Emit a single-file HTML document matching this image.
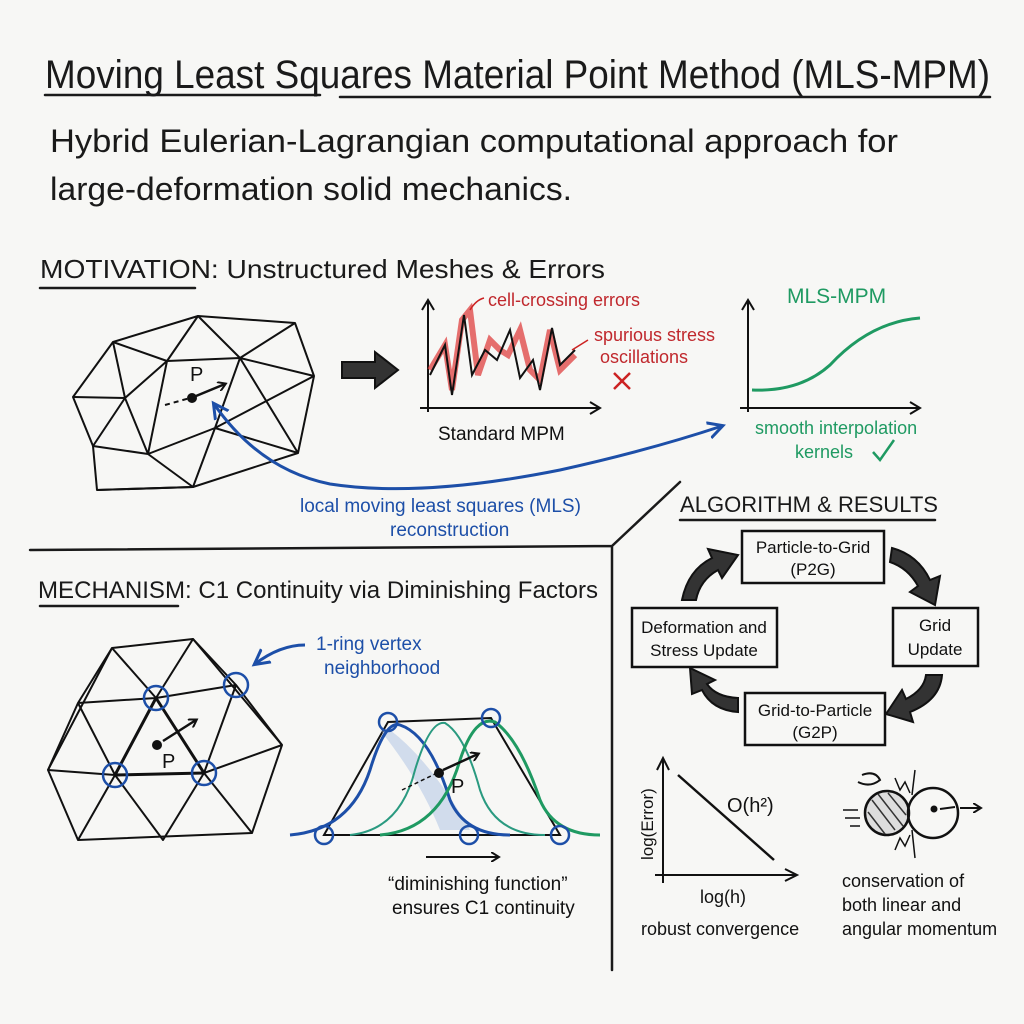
<!DOCTYPE html>
<html><head><meta charset="utf-8"><style>
html,body{margin:0;padding:0;background:#f7f7f5;}
svg{display:block}
text{font-family:"Liberation Sans",sans-serif;}
</style></head><body>
<svg width="1024" height="1024" viewBox="0 0 1024 1024" xmlns="http://www.w3.org/2000/svg">
<rect width="1024" height="1024" fill="#f7f7f5"/>
<defs>
<marker id="ab" markerWidth="10" markerHeight="10" refX="7" refY="5" orient="auto" markerUnits="userSpaceOnUse"><path d="M0,0 L8,5 L0,10" fill="none" stroke="#111" stroke-width="2"/></marker>
<marker id="abl" markerWidth="20" markerHeight="20" refX="14" refY="10" orient="auto-start-reverse" markerUnits="userSpaceOnUse"><path d="M0,2 L15,10 L0,18" fill="none" stroke="#1d4fa8" stroke-width="3"/></marker>
</defs>
<g fill="#1a1a1a">
<text x="45" y="88" font-size="40" textLength="945" lengthAdjust="spacingAndGlyphs">Moving Least Squares Material Point Method (MLS-MPM)</text>
<text x="50" y="152" font-size="32" textLength="848" lengthAdjust="spacingAndGlyphs">Hybrid Eulerian-Lagrangian computational approach for</text>
<text x="50" y="200" font-size="32" textLength="522" lengthAdjust="spacingAndGlyphs">large-deformation solid mechanics.</text>
<text x="40" y="278" font-size="26" textLength="565" lengthAdjust="spacingAndGlyphs">MOTIVATION: Unstructured Meshes &amp; Errors</text>
<text x="38" y="598" font-size="24" textLength="560" lengthAdjust="spacingAndGlyphs">MECHANISM: C1 Continuity via Diminishing Factors</text>
<text x="680" y="512" font-size="22" textLength="258" lengthAdjust="spacingAndGlyphs">ALGORITHM &amp; RESULTS</text>
</g>
<g stroke="#1a1a1a" stroke-width="2.5" fill="none" stroke-linecap="round">
<path d="M45 95 L320 95 M340 97 L990 97"/>
<path d="M40 288 L195 288 M40 606 L178 606"/>
<path d="M680 520 L935 520"/>
<path d="M30 550 L612 546 M612 546 L680 482 M612 546 L612 970"/>
</g>
<!-- mesh 1 -->
<g stroke="#111" stroke-width="2" fill="none" stroke-linejoin="round">
<path d="M113 342 L198 316 L295 323 L314 376 L298 453 L193 487 L97 490 L93 446 L73 397 Z"/>
<path d="M113 342 L167 361 L198 316 L240 358 L295 323 M167 361 L240 358 L314 376 M113 342 L125 398 L73 397 M125 398 L167 361 M125 398 L93 446 L148 454 L125 398 M148 454 L167 361 M148 454 L215 428 L240 358 M148 454 L193 487 L97 490 M215 428 L193 487 M215 428 L298 453 M240 358 L298 453 M314 376 L215 428"/>
</g>
<path d="M165 405 L190 398" stroke="#111" stroke-width="2" stroke-dasharray="5,4"/>
<circle cx="192" cy="398" r="5" fill="#111"/>
<path d="M196 396 L225 384" stroke="#111" stroke-width="2.5" marker-end="url(#ab)"/>
<text x="190" y="381" font-size="20" fill="#111">P</text>
<!-- big arrow -->
<path d="M342 362 L375 362 L375 352 L398 370 L375 388 L375 378 L342 378 Z" fill="#333" stroke="#111" stroke-width="2"/>
<!-- standard MPM chart -->
<g stroke="#111" stroke-width="2" fill="none">
<path d="M428 412 L428 302 M422 310 L428 300 L434 310"/>
<path d="M420 408 L598 408 M590 402 L600 408 L590 414"/>
</g>
<path d="M430 370 L445 345 L452 390 L462 320 L470 310 L478 375 L490 340 L500 350 L508 355 L520 330 L530 370 L540 380 L550 330 L560 370 L575 355" stroke="#d33" stroke-width="6" fill="none" opacity="0.7"/>
<path d="M430 375 L445 345 L452 395 L464 315 L472 375 L485 350 L497 360 L510 330 L520 378 L533 360 L540 390 L552 328 L560 365 L575 350" stroke="#111" stroke-width="2" fill="none"/>
<path d="M470 310 Q476 300 484 298" stroke="#c22" stroke-width="1.5" fill="none"/>
<path d="M572 350 Q580 345 588 340" stroke="#c22" stroke-width="1.5" fill="none"/>
<g fill="#c0282d" font-size="18">
<text x="488" y="306">cell-crossing errors</text>
<text x="594" y="341">spurious stress</text>
<text x="600" y="363">oscillations</text>
</g>
<path d="M614 373 L630 389 M630 373 L614 389" stroke="#c22" stroke-width="2.5"/>
<text x="438" y="440" font-size="19" fill="#111">Standard MPM</text>
<!-- MLS chart -->
<g stroke="#111" stroke-width="2" fill="none">
<path d="M748 412 L748 302 M742 310 L748 300 L754 310"/>
<path d="M740 408 L918 408 M910 402 L920 408 L910 414"/>
</g>
<path d="M752 390 Q800 392 830 365 Q870 322 920 318" stroke="#1f9a62" stroke-width="3" fill="none"/>
<text x="787" y="303" font-size="21" fill="#1f9a62">MLS-MPM</text>
<text x="755" y="434" font-size="18" fill="#1f9a62">smooth interpolation</text>
<text x="795" y="458" font-size="18" fill="#1f9a62">kernels</text>
<path d="M873 452 L880 460 L894 440" stroke="#1f9a62" stroke-width="2.5" fill="none"/>
<!-- blue connector (double headed) -->
<path d="M214 404 Q260 470 330 484 Q420 498 560 470 Q650 450 722 426" stroke="#1d4fa8" stroke-width="3" fill="none" marker-start="url(#abl)" marker-end="url(#abl)"/>
<text x="300" y="512" font-size="19" fill="#1d4fa8">local moving least squares (MLS)</text>
<text x="390" y="536" font-size="19" fill="#1d4fa8">reconstruction</text>
<!-- hex mesh -->
<g stroke="#111" stroke-width="2" fill="none" stroke-linejoin="round">
<path d="M112 648 L193 639 L282 745 L252 833 L78 840 L48 770 Z"/>
<path d="M78 703 L156 698 L236 685 L282 745 M48 770 L115 775 L204 773 L282 745 M112 648 L78 703 L115 775 L78 840 M112 648 L156 698 L193 639 L236 685 M78 703 L48 770 M156 698 L115 775 M236 685 L204 773 L252 833 M115 775 L163 840 L204 773"/>
<path d="M156 698 L115 775 L204 773 Z" stroke-width="3"/>
</g>
<g stroke="#1d4fa8" stroke-width="2.5" fill="none">
<circle cx="156" cy="698" r="12"/><circle cx="236" cy="685" r="12"/><circle cx="115" cy="775" r="12"/><circle cx="204" cy="773" r="12"/>
</g>
<circle cx="157" cy="745" r="5" fill="#111"/>
<path d="M163 741 L196 720" stroke="#111" stroke-width="2.5" marker-end="url(#ab)"/>
<text x="162" y="768" font-size="20" fill="#111">P</text>
<path d="M305 645 Q280 645 255 664" stroke="#1d4fa8" stroke-width="3" fill="none" marker-end="url(#abl)"/>
<text x="316" y="650" font-size="19" fill="#1d4fa8">1-ring vertex</text>
<text x="324" y="674" font-size="19" fill="#1d4fa8">neighborhood</text>
<!-- curves -->
<path d="M324 835 L388 722 L491 718 L560 835 Z" stroke="#111" stroke-width="2" fill="none"/>
<path d="M390 730 Q430 760 470 830 L440 830 Q420 780 380 730 Z" fill="#8aa8dc" opacity="0.35"/>
<path d="M290 835 Q350 830 370 770 Q385 720 400 725 Q430 735 450 800 Q465 835 510 835" stroke="#1d4fa8" stroke-width="3" fill="none"/>
<path d="M350 835 Q400 830 415 770 Q430 720 445 723 Q465 735 480 790 Q495 835 545 835" stroke="#2a9a80" stroke-width="2" fill="none"/>
<path d="M380 835 Q440 830 460 760 Q475 715 495 722 Q520 740 540 800 Q555 835 600 835" stroke="#1f9a62" stroke-width="3" fill="none"/>
<g stroke="#1d4fa8" stroke-width="2.5" fill="none">
<circle cx="324" cy="835" r="9"/><circle cx="388" cy="722" r="9"/><circle cx="491" cy="718" r="9"/><circle cx="469" cy="835" r="9"/><circle cx="560" cy="835" r="9"/>
</g>
<path d="M402 790 L435 774" stroke="#111" stroke-width="1.5" stroke-dasharray="4,3"/>
<circle cx="439" cy="773" r="5" fill="#111"/>
<path d="M443 770 L478 754" stroke="#111" stroke-width="2.5" marker-end="url(#ab)"/>
<text x="451" y="793" font-size="20" fill="#111">P</text>
<path d="M426 857 L498 857" stroke="#111" stroke-width="2" marker-end="url(#ab)"/>
<text x="388" y="890" font-size="19" fill="#111">“diminishing function”</text>
<text x="392" y="914" font-size="19" fill="#111">ensures C1 continuity</text>
<!-- cycle -->
<g stroke="#111" stroke-width="2.5" fill="#f7f7f5">
<rect x="742" y="531" width="142" height="52"/>
<rect x="893" y="608" width="85" height="58"/>
<rect x="632" y="608" width="145" height="59"/>
<rect x="745" y="693" width="140" height="52"/>
</g>
<g font-size="17" fill="#111" text-anchor="middle">
<text x="813" y="553">Particle-to-Grid</text><text x="813" y="575">(P2G)</text>
<text x="935" y="631">Grid</text><text x="935" y="655">Update</text>
<text x="704" y="633">Deformation and</text><text x="704" y="656">Stress Update</text>
<text x="815" y="716">Grid-to-Particle</text><text x="815" y="738">(G2P)</text>
</g>
<g fill="#333" stroke="#111" stroke-width="2">
<path d="M682 600 Q688 570 712 558 L708 549 L738 555 L722 578 L718 570 Q700 580 696 600 Z"/>
<path d="M892 548 Q918 555 930 580 L940 576 L935 605 L910 592 L918 586 Q908 568 890 562 Z"/>
<path d="M942 675 Q940 700 910 712 L913 722 L886 714 L902 690 L906 699 Q924 690 926 675 Z"/>
<path d="M738 712 Q712 710 702 690 L692 694 L690 668 L715 680 L707 684 Q716 697 738 698 Z"/>
</g>
<!-- convergence chart -->
<g stroke="#111" stroke-width="2" fill="none">
<path d="M663 883 L663 760 M657 770 L663 758 L669 770"/>
<path d="M655 875 L795 875 M785 869 L797 875 L785 881"/>
<path d="M678 775 L774 860" stroke-width="2.5"/>
</g>
<text x="727" y="812" font-size="20" fill="#111">O(h²)</text>
<text transform="translate(653,860) rotate(-90)" font-size="17" fill="#111">log(Error)</text>
<text x="700" y="903" font-size="18" fill="#111">log(h)</text>
<text x="641" y="935" font-size="18" fill="#111">robust convergence</text>
<!-- momentum -->
<circle cx="887" cy="813" r="22" fill="#ddd" stroke="#111" stroke-width="2.5"/>
<path d="M872 800 L895 830 M868 812 L885 834 M878 794 L903 826 M888 793 L906 815" stroke="#333" stroke-width="1.5"/>
<circle cx="933" cy="813" r="25" fill="none" stroke="#111" stroke-width="2.5"/>
<circle cx="934" cy="809" r="3.5" fill="#111"/>
<path d="M940 809 L955 807 M960 808 L980 808" stroke="#111" stroke-width="2" marker-end="url(#ab)"/>
<path d="M843 810 L858 810 M845 818 L860 818 M850 826 L860 826" stroke="#111" stroke-width="1.5"/>
<path d="M862 775 Q875 770 880 780 Q870 788 858 782" stroke="#111" stroke-width="2" fill="none"/>
<path d="M895 778 L900 790 L905 782 L910 793 M915 770 L912 795 M895 850 L900 838 L905 846 L910 835 M912 830 L915 858" stroke="#111" stroke-width="1.5" fill="none"/>
<g font-size="18" fill="#111">
<text x="842" y="887">conservation of</text>
<text x="842" y="911">both linear and</text>
<text x="842" y="935">angular momentum</text>
</g>
</svg>
</body></html>
